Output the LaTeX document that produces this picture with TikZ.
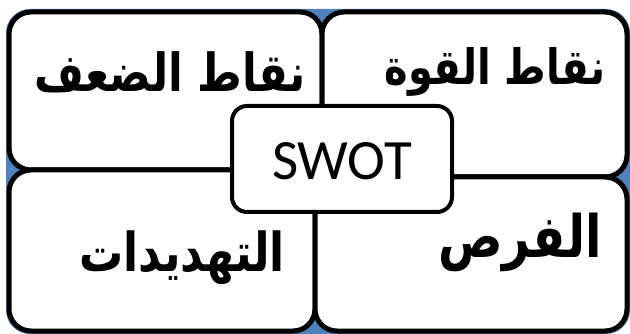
\documentclass[tikz,border=0pt]{standalone}
\usepackage{fontspec}
\usepackage{graphicx}
\setmainfont{Carlito}
\newfontfamily\arabicfont[Script=Arabic]{DejaVu Sans}
\TeXXeTstate=1
\definecolor{swotblue}{HTML}{4F81BD}
% bold Arabic label, stretched a little upright
\newcommand{\arlabeltext}[2]{\scalebox{1}[1.22]{\arabicfont\bfseries\fontsize{#1}{#1}\selectfont #2}}
\tikzset{
  quadrant/.style={draw=black, fill=white, line width=5pt, rounded corners=22pt},
  centerbox/.style={draw=black, fill=white, line width=4pt, rounded corners=15pt},
  arlabel/.style={inner sep=0pt},
}
\begin{document}
\begin{tikzpicture}[x=1pt,y=-1pt]
  \useasboundingbox (0,0) rectangle (630,334);
  % backdrop, only seen in the gaps between the rounded corners
  \fill[swotblue, rounded corners=24pt] (6,9) rectangle (630,334);
  % four quadrants
  \draw[quadrant] (9,12) rectangle (322,170);
  \draw[quadrant] (322,12) rectangle (627,177);
  \draw[quadrant] (9,170) rectangle (315,331);
  \draw[quadrant] (315,177) rectangle (627,331);
  % labels
  \node[arlabel] (weak) at (170,72) {\arlabeltext{43}{\beginR نقاط الضعف\endR}};
  \node[arlabel] (strong) at (495,72) {\arlabeltext{40}{\beginR نقاط القوة\endR}};
  \node[arlabel] (opp) at (520,242) {\arlabeltext{48}{\beginR الفرص\endR}};
  \node[arlabel] (threat) at (182,258) {\arlabeltext{44}{\beginR التهديدات\endR}};
  % centre box
  \draw[centerbox] (232,106) rectangle (452,212);
  \node[font=\fontsize{57}{60}\selectfont, inner sep=0pt] (swot) at (342,161) {SWOT};
\end{tikzpicture}
\end{document}
